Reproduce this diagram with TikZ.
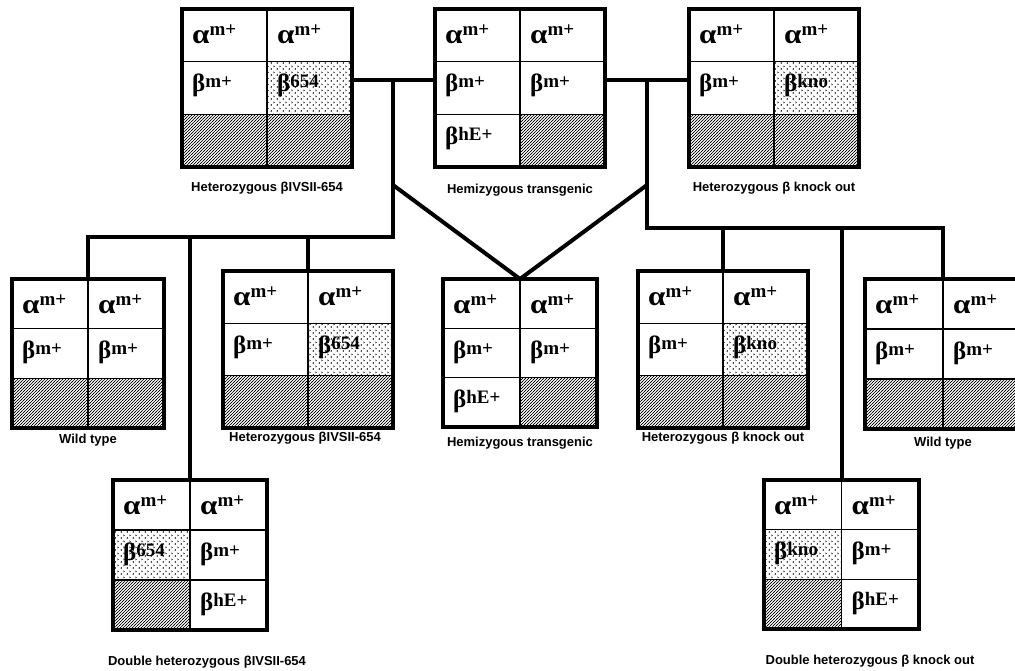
\documentclass[tikz,border=0pt]{standalone}
\usepackage{fontspec}
\setmainfont{Liberation Serif}
\newfontfamily\lblfont{Liberation Sans}
\usepackage{graphicx}
\usetikzlibrary{patterns}

% diagonal hatching for absent alleles
\pgfdeclarepatternformonly{genehatch}{\pgfpoint{-1pt}{-1pt}}{\pgfpoint{4pt}{4pt}}{\pgfpoint{3pt}{3pt}}{%
  \pgfsetlinewidth{0.5pt}%
  \pgfpathmoveto{\pgfpoint{-1pt}{-1pt}}%
  \pgfpathlineto{\pgfpoint{4pt}{4pt}}%
  \pgfusepath{stroke}}
% light stipple for mutant alleles
\pgfdeclarepatternformonly{genestipple}{\pgfpoint{0pt}{0pt}}{\pgfpoint{6pt}{6pt}}{\pgfpoint{6pt}{6pt}}{%
  \pgfsetlinewidth{0.5pt}%
  \pgfpathmoveto{\pgfpoint{2pt}{0.3pt}}\pgfpathlineto{\pgfpoint{0.9pt}{1.1pt}}\pgfpathlineto{\pgfpoint{2pt}{1.9pt}}%
  \pgfpathmoveto{\pgfpoint{4pt}{3.3pt}}\pgfpathlineto{\pgfpoint{5.1pt}{4.1pt}}\pgfpathlineto{\pgfpoint{4pt}{4.9pt}}%
  \pgfusepath{stroke}}

% genotype box: name, left, top, width, height
\newcommand\gbox[5]{\def\gname{#1}\def\gl{#2}\def\gt{#3}\def\gw{#4}\def\gh{#5}}
% filled cell: column, row, style
\newcommand\gfill[3]{\path[#3] ({\gl+#1*\gw/2},{\gt+#2*\gh/3}) rectangle ({\gl+(#1+1)*\gw/2},{\gt+(#2+1)*\gh/3});}
% cell with allele text: column, row, style, text
\newcommand\gcell[4]{\gfill{#1}{#2}{#3}%
  \ifnum#2=0 \def\gyoff{34}\else\def\gyoff{30}\fi
  \node[celltext] (\gname-#1#2) at ({\gl+#1*\gw/2+10},{\gt+#2*\gh/3+\gyoff}) {#4};}
% inner grid and outer frame of the current box
\newcommand\gclose{%
  \draw[gridline] ({\gl+\gw/2},\gt) -- ++(0,\gh);
  \draw[gridline] (\gl,{\gt+\gh/3}) -- ++(\gw,0);
  \draw[gridline] (\gl,{\gt+2*\gh/3}) -- ++(\gw,0);
  \node[genebox, minimum width=\gw*1pt, minimum height=\gh*1pt, anchor=north west] (\gname) at (\gl,\gt) {};}

\newcommand\gsup[2]{\raisebox{#1}{\fontsize{19}{19}\selectfont #2}}
\newcommand\ga[1]{\scalebox{1.25}[1.1]{α}\gsup{8pt}{#1}}
\newcommand\gb[1]{β\gsup{4pt}{#1}}

\begin{document}
\begin{tikzpicture}[x=1pt,y=-1pt,
  genebox/.style={draw, line width=4pt, inner sep=0pt, outer sep=0pt},
  gridline/.style={line width=1.6pt},
  link/.style={line width=4pt, line join=miter},
  hatched/.style={pattern=genehatch},
  stippled/.style={pattern=genestipple},
  plain/.style={},
  celltext/.style={inner sep=0pt, anchor=base west, font=\bfseries\fontsize{25}{25}\selectfont},
  lbl/.style={inner sep=0pt, font=\lblfont\bfseries\fontsize{13}{15}\selectfont}]
\useasboundingbox (0,0) rectangle (1015,670);
\clip (0,0) rectangle (1015,670);

% ---- parents ----
\gbox{t1}{182}{9}{170}{158}
\gcell{0}{0}{plain}{\ga{m+}} \gcell{1}{0}{plain}{\ga{m+}}
\gcell{0}{1}{plain}{\gb{m+}} \gcell{1}{1}{stippled}{\gb{654}}
\gfill{0}{2}{hatched} \gfill{1}{2}{hatched}
\gclose

\gbox{t2}{435}{9}{170}{158}
\gcell{0}{0}{plain}{\ga{m+}} \gcell{1}{0}{plain}{\ga{m+}}
\gcell{0}{1}{plain}{\gb{m+}} \gcell{1}{1}{plain}{\gb{m+}}
\gcell{0}{2}{plain}{\gb{hE+}} \gfill{1}{2}{hatched}
\gclose

\gbox{t3}{689}{9}{170}{158}
\gcell{0}{0}{plain}{\ga{m+}} \gcell{1}{0}{plain}{\ga{m+}}
\gcell{0}{1}{plain}{\gb{m+}} \gcell{1}{1}{stippled}{\gb{kno}}
\gfill{0}{2}{hatched} \gfill{1}{2}{hatched}
\gclose

% ---- first generation ----
\gbox{w1}{12}{279}{152}{149}
\gcell{0}{0}{plain}{\ga{m+}} \gcell{1}{0}{plain}{\ga{m+}}
\gcell{0}{1}{plain}{\gb{m+}} \gcell{1}{1}{plain}{\gb{m+}}
\gfill{0}{2}{hatched} \gfill{1}{2}{hatched}
\gclose

\gbox{h1}{223}{271}{170}{157}
\gcell{0}{0}{plain}{\ga{m+}} \gcell{1}{0}{plain}{\ga{m+}}
\gcell{0}{1}{plain}{\gb{m+}} \gcell{1}{1}{stippled}{\gb{654}}
\gfill{0}{2}{hatched} \gfill{1}{2}{hatched}
\gclose

\gbox{m}{443}{279}{154}{148}
\gcell{0}{0}{plain}{\ga{m+}} \gcell{1}{0}{plain}{\ga{m+}}
\gcell{0}{1}{plain}{\gb{m+}} \gcell{1}{1}{plain}{\gb{m+}}
\gcell{0}{2}{plain}{\gb{hE+}} \gfill{1}{2}{hatched}
\gclose

\gbox{k1}{638}{271}{170}{157}
\gcell{0}{0}{plain}{\ga{m+}} \gcell{1}{0}{plain}{\ga{m+}}
\gcell{0}{1}{plain}{\gb{m+}} \gcell{1}{1}{stippled}{\gb{kno}}
\gfill{0}{2}{hatched} \gfill{1}{2}{hatched}
\gclose

\gbox{w2}{865}{279}{156}{150}
\gcell{0}{0}{plain}{\ga{m+}} \gcell{1}{0}{plain}{\ga{m+}}
\gcell{0}{1}{plain}{\gb{m+}} \gcell{1}{1}{plain}{\gb{m+}}
\gfill{0}{2}{hatched} \gfill{1}{2}{hatched}
\gclose

% ---- double heterozygotes ----
\gbox{d1}{113}{480}{154}{150}
\gcell{0}{0}{plain}{\ga{m+}} \gcell{1}{0}{plain}{\ga{m+}}
\gcell{0}{1}{stippled}{\gb{654}} \gcell{1}{1}{plain}{\gb{m+}}
\gfill{0}{2}{hatched} \gcell{1}{2}{plain}{\gb{hE+}}
\gclose

\gbox{d2}{764}{480}{155}{149}
\gcell{0}{0}{plain}{\ga{m+}} \gcell{1}{0}{plain}{\ga{m+}}
\gcell{0}{1}{stippled}{\gb{kno}} \gcell{1}{1}{plain}{\gb{m+}}
\gfill{0}{2}{hatched} \gcell{1}{2}{plain}{\gb{hE+}}
\gclose

% ---- captions ----
\node[lbl] (t1-name) at (267,188) {Heterozygous βIVSII-654};
\node[lbl] (t2-name) at (520,190) {Hemizygous transgenic};
\node[lbl] (t3-name) at (774,188) {Heterozygous β knock out};
\node[lbl] (w1-name) at (88,440) {Wild type};
\node[lbl] (h1-name) at (305,438) {Heterozygous βIVSII-654};
\node[lbl] (m-name) at (520,443) {Hemizygous transgenic};
\node[lbl] (k1-name) at (723,438) {Heterozygous β knock out};
\node[lbl] (w2-name) at (943,443) {Wild type};
\node[lbl] (d1-name) at (207,662) {Double heterozygous βIVSII-654};
\node[lbl] (d2-name) at (870,661) {Double heterozygous β knock out};

% ---- crosses ----
\coordinate (jl) at (393,80);
\coordinate (jr) at (647,80);
\coordinate (bl) at (393,237);
\coordinate (br) at (647,228);
\coordinate (dl) at (393,185);
\coordinate (dr) at (647,185);

\draw[link] (t1.east |- jl) -- (t2.west |- jl);
\draw[link] (t2.east |- jr) -- (t3.west |- jr);
\draw[link] (jl) -- (bl) -| (w1.north);
\draw[link] (jr) -- (br) -| (w2.north);
\draw[link] (h1.north |- bl) -- (h1.north);
\draw[link] (d1.north |- bl) -- (d1.north);
\draw[link] (k1.north |- br) -- (k1.north);
\draw[link] (d2.north |- br) -- (d2.north);
\draw[link] (dl) -- (m.north) -- (dr);
\end{tikzpicture}
\end{document}
